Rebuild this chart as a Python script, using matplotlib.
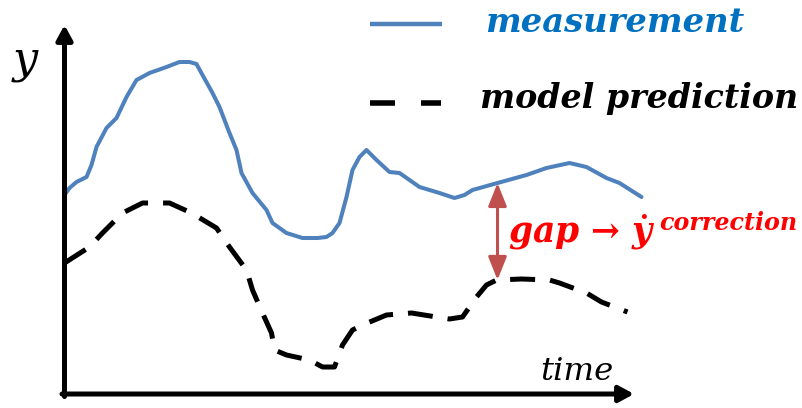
import numpy as np
import matplotlib
matplotlib.use("Agg")
import matplotlib.pyplot as plt
from matplotlib.lines import Line2D

plt.rcParams["mathtext.fontset"] = "custom"
plt.rcParams["mathtext.it"] = "DejaVu Serif:italic:bold"
plt.rcParams["mathtext.rm"] = "DejaVu Serif:bold"
plt.rcParams["mathtext.bf"] = "DejaVu Serif:bold"

# ---------------- data (time, y) ----------------
meas_t = [0, 5, 12, 22, 27, 32, 42, 52, 62, 72, 85, 102, 115, 125, 132, 138, 148, 155, 165, 172,
          177, 188, 202, 208, 222, 238, 253, 262, 268, 275, 282, 288, 295, 302, 312, 325, 335, 355, 375, 390,
          400, 408, 433, 462, 482, 505, 522, 542, 555, 577]
meas_y = [199, 206, 212, 217, 229, 247, 266, 276, 297, 314, 321, 327, 332, 332, 330, 319, 301, 287, 261, 244,
          221, 201, 184, 171, 161, 156, 156, 157, 161, 171, 197, 224, 237, 244, 234, 222, 221, 207, 201, 196,
          199, 204, 211, 219, 226, 231, 227, 216, 211, 197]

model_t = [0, 25, 38, 58, 78, 105, 127, 152, 165, 182, 188, 198, 207, 210, 222, 245, 258, 270, 278, 288,
           298, 322, 347, 372, 385, 398, 412, 422, 432, 457, 485, 495, 522, 537, 563]
model_y = [131, 147, 161, 181, 191, 191, 181, 166, 147, 124, 104, 81, 61, 44, 39, 34, 27, 27, 49, 64,
           69, 79, 81, 77, 75, 77, 97, 109, 114, 115, 114, 111, 101, 92, 82]

gap_time = 433
labels = ["measurement", "model prediction"]
gap_label = "gap \u2192 $\\dot{y}$"
gap_sup = "correction"
x_label = "time"
y_label = "y"

# ---------------- style ----------------
BLUE = "#4f81bd"
BLUE_TXT = "#0070c0"
ARROW_RED = "#c0504d"
RED = "#ff0000"
W, H = 803, 408
OX, OY = 64.5, 394.0  # pixel position of the origin


def px(x, y):
    """pixel (from top-left) -> data coordinates"""
    return x - OX, OY - y


fig = plt.figure(figsize=(W / 100, H / 100), dpi=100)
ax = fig.add_axes([0, 0, 1, 1])
ax.set_xlim(-OX, W - OX)
ax.set_ylim(OY - H, OY)
ax.axis("off")
renderer = fig.canvas.get_renderer()

# curves
ax.plot(meas_t, meas_y, color=BLUE, lw=2.9, solid_capstyle="round", solid_joinstyle="round", zorder=3)
ax.plot(model_t, model_y, color="black", lw=3.6, dashes=(5, 3), dash_capstyle="butt",
        dash_joinstyle="round", zorder=3)

# axes arrows
ax.annotate("", xy=px(OX, 25), xytext=px(OX, OY + 2.5),
            arrowprops=dict(arrowstyle="-|>,head_length=0.55,head_width=0.3", lw=3.6, color="black",
                            shrinkA=0, shrinkB=0, mutation_scale=16))
ax.annotate("", xy=px(634, OY), xytext=px(OX - 2.5, OY),
            arrowprops=dict(arrowstyle="-|>,head_length=0.55,head_width=0.3", lw=3.6, color="black",
                            shrinkA=0, shrinkB=0, mutation_scale=16))

# gap arrow between the curves
top = np.interp(gap_time, meas_t, meas_y)
bot = np.interp(gap_time, model_t, model_y)
ax.annotate("", xy=(gap_time, bot), xytext=(gap_time, top),
            arrowprops=dict(arrowstyle="<|-|>,head_length=0.7,head_width=0.28", lw=2.2, color=ARROW_RED,
                            shrinkA=0, shrinkB=0, mutation_scale=20))

# legend keys
ax.add_line(Line2D(*zip(px(370, 24), px(442, 24)), color=BLUE, lw=3.2, solid_capstyle="butt"))
ax.add_line(Line2D(*zip(px(370, 103), px(395, 103)), color="black", lw=4, solid_capstyle="butt"))
ax.add_line(Line2D(*zip(px(421, 103), px(441, 103)), color="black", lw=4, solid_capstyle="butt"))

SERIF = ["DejaVu Serif", "DejaVu Sans"]


def put(s, left, base, right, **kw):
    t = ax.text(*px(left, base), s, ha="left", va="baseline", family=SERIF, fontsize=20, **kw)
    bb = t.get_window_extent(renderer)
    t.set_fontsize(20 * (right - left) / bb.width)
    return t


put(labels[0], 485, 32, 744, color=BLUE_TXT, weight="bold", style="italic")
put(labels[1], 480, 108, 798, color="black", weight="bold", style="italic")
put(gap_label, 508, 243, 656, color=RED, weight="bold", style="italic")
put(gap_sup, 659, 230, 797, color=RED, weight="bold", style="italic")
put(x_label, 540, 380, 613, color="black", style="italic")
put(y_label, 13, 72, 38, color="black", style="italic")

fig.savefig("out.png", dpi=100)
